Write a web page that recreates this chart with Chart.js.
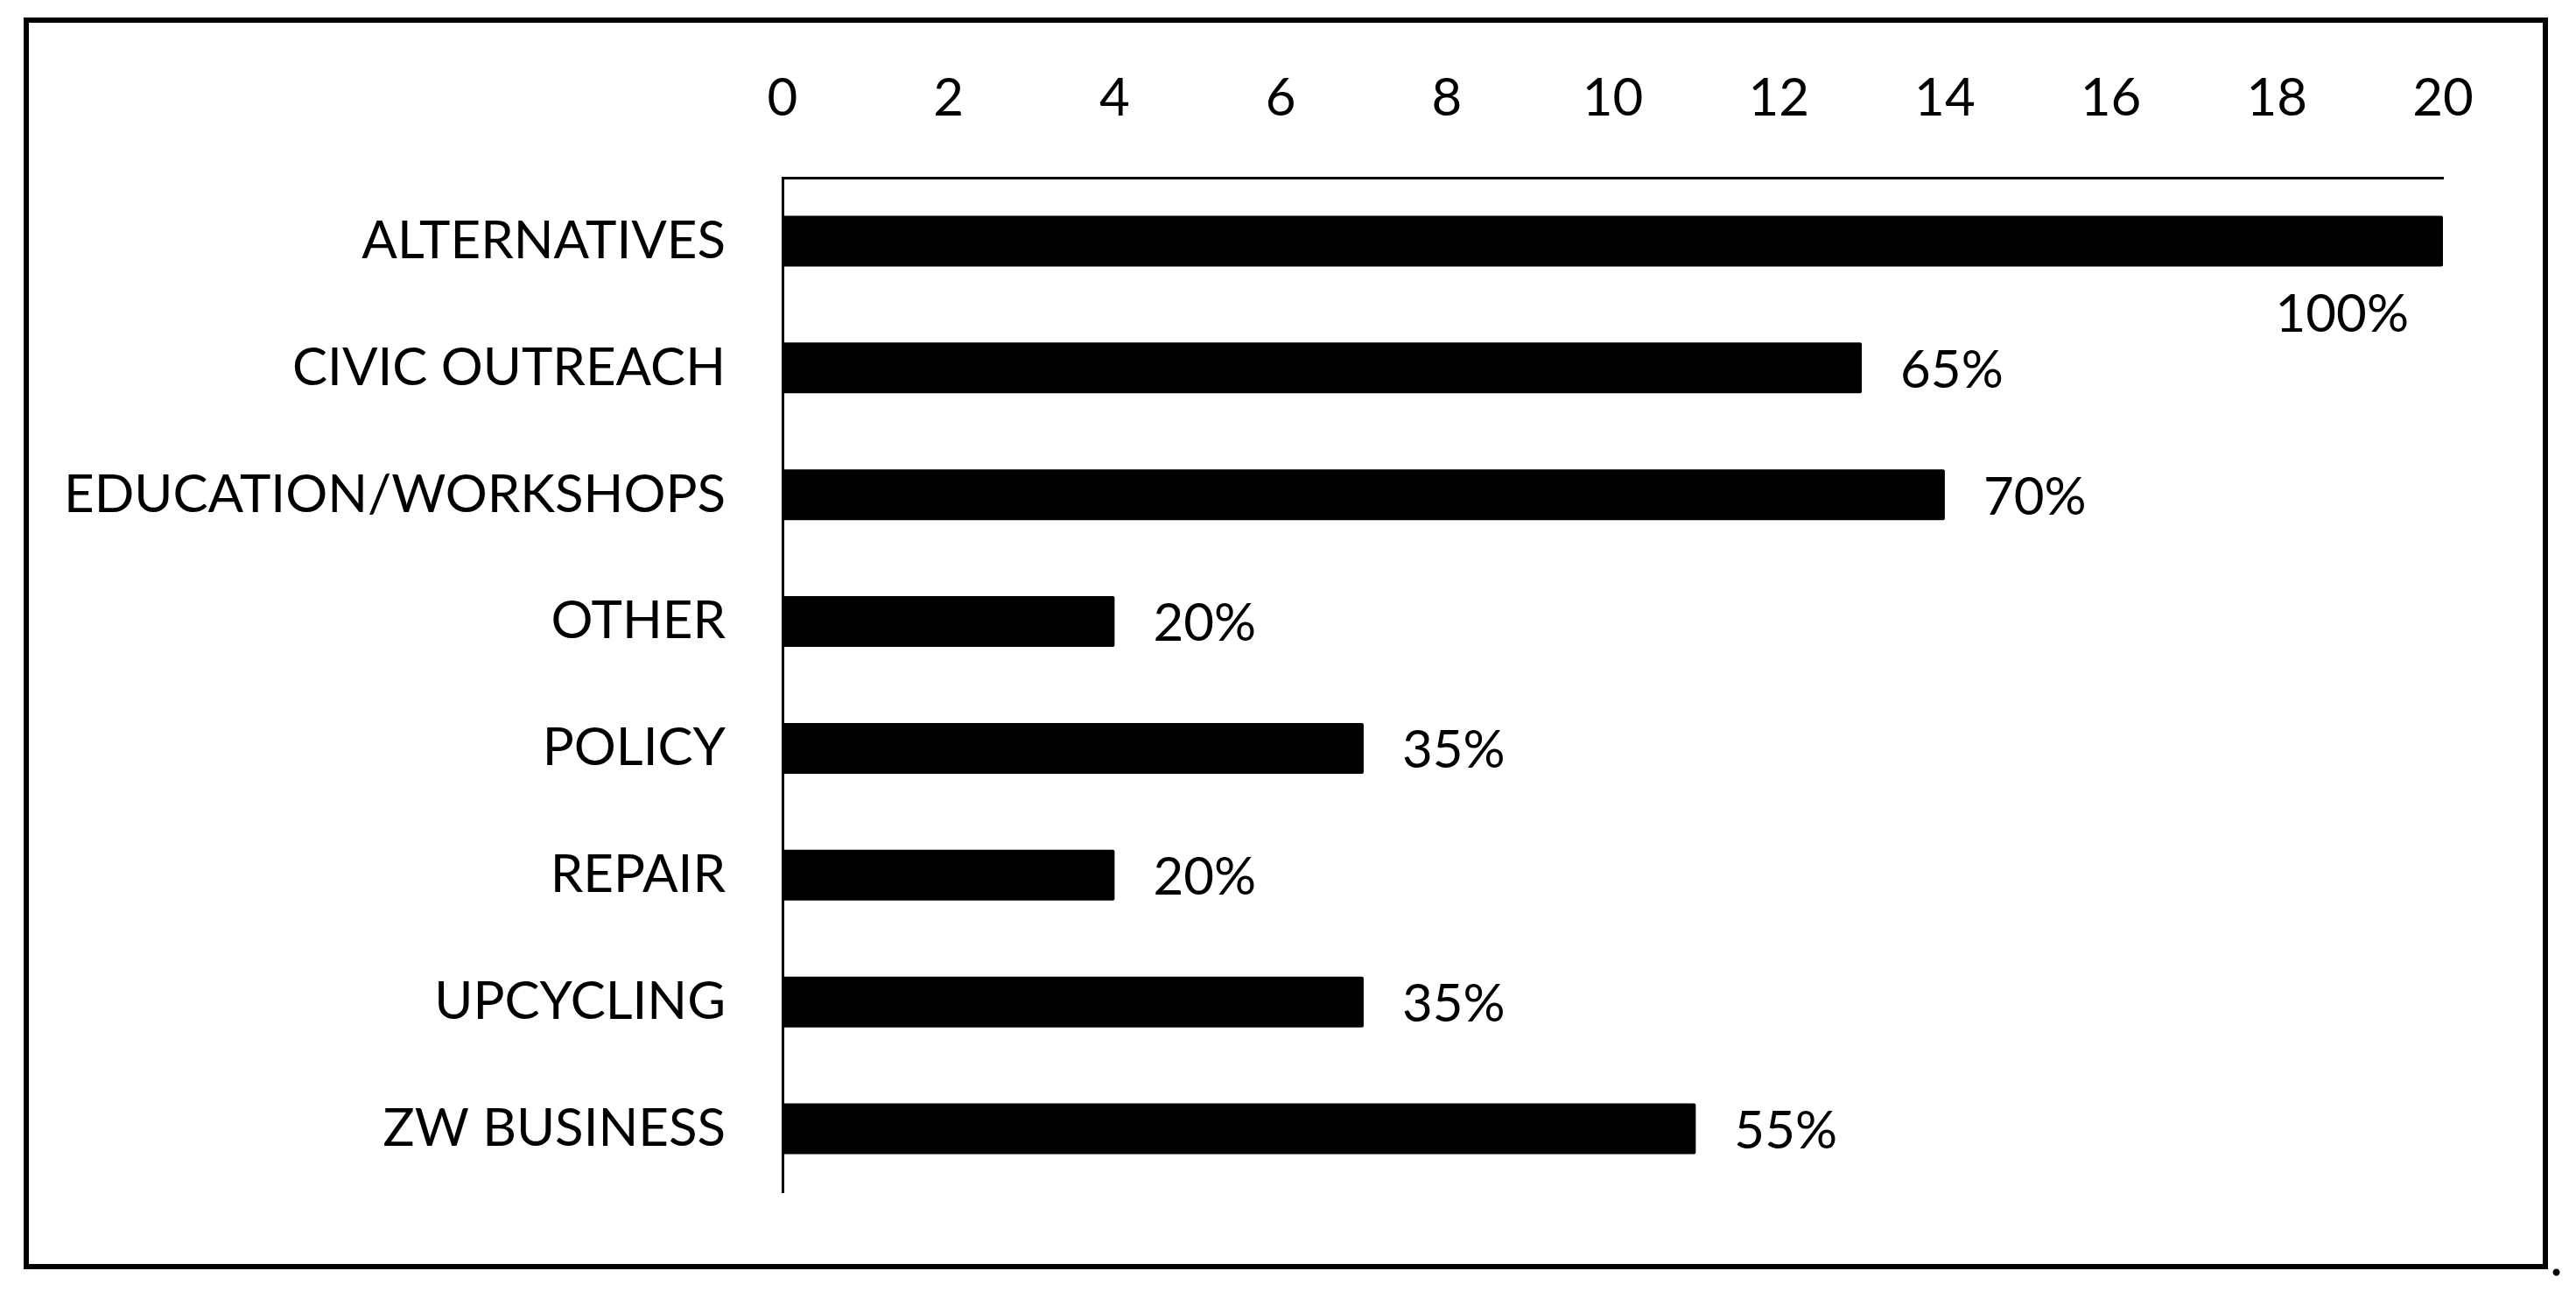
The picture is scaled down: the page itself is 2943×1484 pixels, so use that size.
<!DOCTYPE html>
<html>
<head>
<meta charset="utf-8">
<script src="https://cdn.jsdelivr.net/npm/chart.js@4/dist/chart.umd.min.js"></script>
<style>
  html, body { margin: 0; padding: 0; background: #ffffff; }
  #wrap { width: 2943px; height: 1484px; position: relative; }
  canvas { display: block; }
</style>
</head>
<body>
<div id="wrap"><canvas id="c" width="2943" height="1484"></canvas></div>
<script>
// ---- data ----
const categories = ['ALTERNATIVES', 'CIVIC OUTREACH', 'EDUCATION/WORKSHOPS', 'OTHER', 'POLICY', 'REPAIR', 'UPCYCLING', 'ZW BUSINESS'];
const counts = [20, 13, 14, 4, 7, 4, 7, 11];
const percentLabels = ['100%', '65%', '70%', '20%', '35%', '20%', '35%', '55%'];
const xTickValues = [0, 2, 4, 6, 8, 10, 12, 14, 16, 18, 20];

// ---- style ----
const FONT_FAMILY = 'Lato, "Open Sans", sans-serif';
const FONT_SIZE = 60;

const framePlugin = {
  id: 'frame',
  beforeDraw(chart) {
    const ctx = chart.ctx;
    ctx.save();
    ctx.fillStyle = '#ffffff';
    ctx.fillRect(0, 0, chart.width, chart.height);
    ctx.restore();
  },
  afterDraw(chart) {
    const ctx = chart.ctx;
    ctx.save();
    ctx.strokeStyle = '#000000';
    ctx.lineWidth = 6;
    ctx.strokeRect(30, 23, 2878, 1424);
    ctx.fillStyle = '#000000';
    ctx.font = '64px ' + FONT_FAMILY;
    ctx.textAlign = 'left';
    ctx.textBaseline = 'alphabetic';
    ctx.fillText('.', 2913, 1457);
    ctx.restore();
  }
};

const valueLabelPlugin = {
  id: 'valueLabels',
  afterDatasetsDraw(chart) {
    const ctx = chart.ctx;
    const meta = chart.getDatasetMeta(0);
    ctx.save();
    ctx.fillStyle = '#000000';
    ctx.font = FONT_SIZE + 'px ' + FONT_FAMILY;
    const gap = 44;
    meta.data.forEach((bar, i) => {
      const text = percentLabels[i];
      const w = ctx.measureText(text).width;
      if (bar.x + gap + w > chart.width - 40) {
        ctx.textAlign = 'right';
        ctx.textBaseline = 'middle';
        ctx.fillText(text, bar.x - 39, bar.y + 84);
      } else {
        ctx.textAlign = 'left';
        ctx.textBaseline = 'middle';
        ctx.fillText(text, bar.x + gap, bar.y + 3);
      }
    });
    ctx.restore();
  }
};

new Chart(document.getElementById('c'), {
  type: 'bar',
  data: {
    labels: categories,
    datasets: [{
      data: counts,
      backgroundColor: '#000000',
      borderWidth: 0,
      borderRadius: 2,
      barPercentage: 0.8,
      categoryPercentage: 0.5
    }]
  },
  options: {
    indexAxis: 'y',
    responsive: false,
    maintainAspectRatio: false,
    devicePixelRatio: 1,
    animation: false,
    layout: { padding: { left: 0, top: 0, right: 152, bottom: 122 } },
    plugins: {
      legend: { display: false },
      tooltip: { enabled: false },
      title: { display: false }
    },
    scales: {
      x: {
        position: 'top',
        min: 0,
        max: 20,
        afterBuildTicks(scale) { scale.ticks = xTickValues.map(v => ({ value: v })); },
        afterFit(scale) { scale.height = 203; },
        grid: { display: false },
        border: { display: true, color: '#000000', width: 3 },
        ticks: {
          color: '#000000',
          font: { family: FONT_FAMILY, size: FONT_SIZE },
          padding: 46,
          maxRotation: 0,
          autoSkip: false
        }
      },
      y: {
        afterFit(scale) { scale.width = 894; },
        grid: { display: false },
        border: { display: true, color: '#000000', width: 3 },
        ticks: {
          color: '#000000',
          font: { family: FONT_FAMILY, size: FONT_SIZE },
          padding: 57,
          autoSkip: false
        }
      }
    }
  },
  plugins: [framePlugin, valueLabelPlugin]
});
</script>
</body>
</html>
